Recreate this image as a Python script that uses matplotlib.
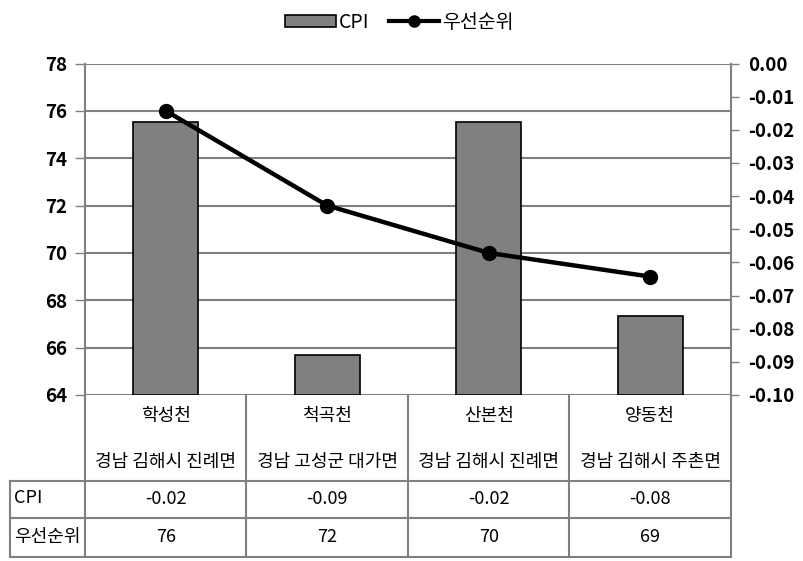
import matplotlib
matplotlib.use("Agg")
import matplotlib.pyplot as plt
from matplotlib.transforms import blended_transform_factory
from matplotlib.lines import Line2D
from matplotlib.patches import Patch

plt.rcParams['font.family'] = ['Noto Sans CJK KR', 'DejaVu Sans']

# ---- data ----
streams = ["학성천", "척곡천", "산본천", "양동천"]
locations = ["경남 김해시 진례면", "경남 고성군 대가면", "경남 김해시 진례면", "경남 김해시 주촌면"]
cpi_values = [-0.0176, -0.0879, -0.0176, -0.0761]      # bars, right axis
priority_values = [76, 72, 70, 69]                        # line, left axis
left_ticks = [64, 66, 68, 70, 72, 74, 76, 78]
right_ticks = [0.00, -0.01, -0.02, -0.03, -0.04, -0.05, -0.06, -0.07, -0.08, -0.09, -0.10]
series_names = ["CPI", "우선순위"]

GRAY = "#808080"
BAR = "#808080"
TFS = 13

fig = plt.figure(figsize=(8.04, 5.61), dpi=100)
pos = [85/804, 1-395/561, (731-85)/804, (395-63.5)/561]
ax2 = fig.add_axes(pos)  # bars (right axis)
ax = fig.add_axes(pos, sharex=ax2)  # line (left axis)
ax.patch.set_visible(False)
ax.set_zorder(ax2.get_zorder() + 1)

x = list(range(len(streams)))

# bars on right axis
ax2.bar(x, [v - (-0.10) for v in cpi_values], bottom=-0.10, width=0.4,
        color=BAR, edgecolor="black", linewidth=1.2, zorder=3)
ax2.set_ylim(-0.10, 0.0)
ax2.set_xlim(-0.5, 3.5)
ax2.yaxis.tick_right()
ax2.set_yticks(right_ticks)
ax2.set_yticklabels([f"{t:.2f}" for t in right_ticks], fontsize=13.5, fontweight="bold")
ax2.tick_params(axis="y", direction="out", length=6, width=1, color=GRAY, pad=6)
ax2.set_xticks([])
for s in ["top", "bottom", "left"]:
    ax2.spines[s].set_visible(False)
ax2.spines["right"].set_color(GRAY)
ax2.spines["right"].set_linewidth(1.5)

# gridlines in left-axis units, behind bars
trans_grid = blended_transform_factory(ax2.transAxes, ax.transData)
ax2.hlines(left_ticks, 0, 1, transform=trans_grid, colors=GRAY, linewidth=1.5, zorder=1)

# line on left axis
ax.plot(x, priority_values, color="black", linewidth=3.2, marker="o",
        markersize=10, zorder=5, solid_capstyle="round")
ax.set_ylim(64, 78)
ax.set_yticks(left_ticks)
ax.set_yticklabels([str(t) for t in left_ticks], fontsize=13.5, fontweight="bold")
ax.tick_params(axis="y", direction="out", length=7, width=1, color=GRAY, pad=6)
ax.tick_params(axis="x", bottom=False, labelbottom=False)
for s in ["top", "bottom", "right"]:
    ax.spines[s].set_visible(False)
ax.spines["left"].set_color(GRAY)
ax.spines["left"].set_linewidth(1.5)

# ---- data table below ----
h = (395 - 63.5)
def yf(py):
    return (395 - py) / h

tr = ax2.get_xaxis_transform()
x_left = -0.5 - 75/161.5
lkw = dict(color=GRAY, linewidth=1.5, transform=tr, clip_on=False)
for xv in [-0.5, 0.5, 1.5, 2.5, 3.5]:
    ax2.plot([xv, xv], [0, yf(557)], **lkw)
ax2.plot([x_left, x_left], [yf(481), yf(557)], **lkw)
for py in [481, 518, 557]:
    ax2.plot([x_left, 3.5], [yf(py), yf(py)], **lkw)

tkw = dict(transform=tr, ha="center", va="center", fontsize=TFS, fontweight="medium")
for i in x:
    ax2.text(i, yf(416), streams[i], **tkw)
    ax2.text(i, yf(462), locations[i], **tkw)
    ax2.text(i, yf(499), f"{cpi_values[i]:.2f}", **tkw)
    ax2.text(i, yf(537), f"{priority_values[i]:d}", **tkw)
lkw2 = dict(tkw, ha="left")
ax2.text(-0.5 - 71/161.5, yf(498), series_names[0], **lkw2)
ax2.text(-0.5 - 71/161.5, yf(537), series_names[1], **lkw2)

# ---- legend ----
handles = [Patch(facecolor=BAR, edgecolor="black", linewidth=1.2),
           Line2D([0], [0], color="black", linewidth=3, marker="o", markersize=8)]
fig.legend(handles, series_names, loc="upper center", bbox_to_anchor=(0.497, 1.01),
           ncol=2, frameon=False, prop={"size": 14, "weight": "medium"},
           handlelength=2.6, handletextpad=0.15, columnspacing=1.0, handleheight=0.6)

fig.savefig("out.png", dpi=100)
